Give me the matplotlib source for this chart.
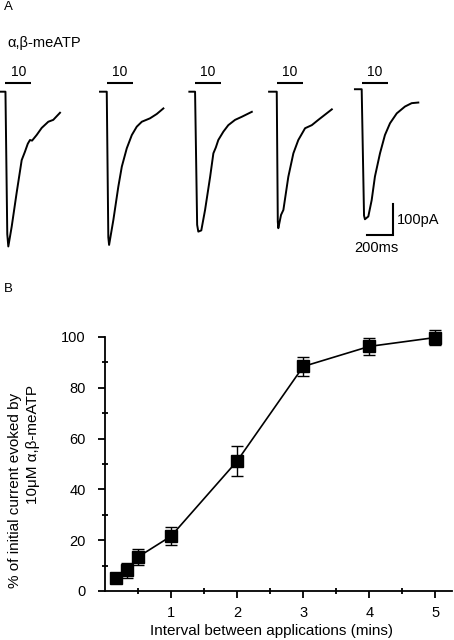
import matplotlib.pyplot as plt

plt.rcParams['font.family'] = ['Liberation Sans', 'DejaVu Sans']

# ---- panel A: current traces (ms after onset, pA) ----
trace1_t = [-45, 0, 14, 22, 48, 86, 125, 150, 172, 189, 205, 240, 279, 330, 368, 420]
trace1_i = [0, 0, -460, -500, -436, -327, -221, -194, -168, -156, -158, -140, -117, -97, -91, -68]
trace2_t = [-52, 0, 12, 18, 51, 89, 116, 154, 193, 231, 270, 333, 385, 436]
trace2_i = [0, 0, -470, -495, -414, -307, -242, -183, -140, -113, -97, -86, -72, -54]
trace3_t = [-44, 0, 16, 25, 48, 77, 116, 141, 160, 179, 218, 256, 308, 360, 437]
trace3_i = [0, 0, -430, -452, -448, -382, -275, -199, -180, -156, -129, -108, -91, -81, -65]
trace4_t = [-59, 0, 8, 12, 33, 51, 89, 128, 166, 218, 270, 320, 424]
trace4_i = [0, 0, -420, -441, -398, -382, -275, -199, -156, -118, -108, -91, -57]
trace5_t = [-52, 0, 18, 25, 51, 77, 102, 141, 179, 218, 270, 333, 385, 436]
trace5_i = [8, 8, -400, -412, -403, -350, -274, -199, -140, -102, -70, -48, -37, -35]

traces = [(trace1_t, trace1_i), (trace2_t, trace2_i), (trace3_t, trace3_i),
          (trace4_t, trace4_i), (trace5_t, trace5_i)]
conc_label = "10"
application_ms = (0, 200)
scale_ms = 200
scale_pa = 100

# ---- panel B: recovery vs interval ----
interval_min = [0.167, 0.333, 0.5, 1, 2, 3, 4, 5]
recovery_pct = [5.1, 8.2, 13.4, 21.6, 51.2, 88.4, 96.3, 99.8]
recovery_sem = [1.5, 3.0, 3.0, 3.5, 6.0, 3.8, 3.5, 3.0]

W, H = 454, 640
fig = plt.figure(figsize=(W / 100, H / 100), dpi=100)
fig.patch.set_facecolor('white')


def fx(px):
    return px / W


def fy(py):
    return 1 - py / H


# layout of panel A (ms/pixel and pA/pixel from the scale bars)
MS_PX, PA_PX = 7.7, 3.23
onsets = [42, 822, 1502, 2131, 2785]

ax_a = fig.add_axes([0, fy(280), 1, 280 / H])
ax_a.set_xlim(0, W * MS_PX)
ax_a.set_ylim(-(280 - 91.7) * PA_PX, 91.7 * PA_PX)
ax_a.axis('off')

for (t, i), t0 in zip(traces, onsets):
    ax_a.plot([t0 + v for v in t], i, color='black', lw=1.4,
              solid_joinstyle='round')
    ax_a.plot([t0 + application_ms[0], t0 + application_ms[1]], [27, 27],
              color='black', lw=1.5, solid_capstyle='butt')
    ax_a.text(t0 + sum(application_ms) / 2, 65, conc_label, ha='center',
              va='center', fontsize=10)

sx, sy = 3024, -463
ax_a.plot([sx - scale_ms, sx, sx], [sy, sy, sy + scale_pa], color='black',
          lw=1.5, solid_joinstyle='miter')
ax_a.text(sx + 30, sy + scale_pa / 2, f"{scale_pa}pA", ha='left', va='center',
          fontsize=10.5)
ax_a.text(sx - scale_ms / 2 - 25, sy - 42, f"{scale_ms}ms", ha='center',
          va='center', fontsize=10.5)

fig.text(fx(4), fy(7.5), "A", ha='left', va='center', fontsize=9.5)
fig.text(fx(7), fy(42.5), "α,β-meATP", ha='left', va='center', fontsize=10.5)
fig.text(fx(4), fy(288.5), "B", ha='left', va='center', fontsize=9.5)

# ---- panel B ----
ax_b = fig.add_axes([fx(105), fy(591), fx(452) - fx(105), (591 - 337) / H])
ax_b.errorbar(interval_min, recovery_pct, yerr=recovery_sem, color='black',
              lw=1.2, elinewidth=1.0, capsize=4.2, capthick=1.0, marker='s',
              markersize=8, clip_on=False, zorder=3)
ax_b.set_xlim(0, 5.25)
ax_b.set_ylim(0, 100)
ax_b.set_xticks([1, 2, 3, 4, 5])
ax_b.set_xticks([0.5, 1.5, 2.5, 3.5, 4.5], minor=True)
ax_b.set_yticks([0, 20, 40, 60, 80, 100])
ax_b.set_yticks([10, 30, 50, 70, 90], minor=True)
for s in ['top', 'right']:
    ax_b.spines[s].set_visible(False)
for s in ['left', 'bottom']:
    ax_b.spines[s].set_linewidth(1.3)
ax_b.tick_params(which='major', direction='out', length=5, width=1.3,
                 labelsize=10.5)
ax_b.tick_params(axis='y', which='major', pad=9)
ax_b.tick_params(axis='x', which='major', pad=6)
ax_b.tick_params(which='minor', direction='inout', length=5, width=1.3)

fig.text(fx(272), fy(631.5), "Interval between applications (mins)",
         ha='center', va='center', fontsize=11)
fig.text(fx(15), fy(490.5), "% of initial current evoked by", rotation=90,
         ha='center', va='center', fontsize=11)
fig.text(fx(33), fy(445), "10μM α,β-meATP", rotation=90,
         ha='center', va='center', fontsize=11)

fig.savefig('out.png', dpi=100, facecolor='white')
